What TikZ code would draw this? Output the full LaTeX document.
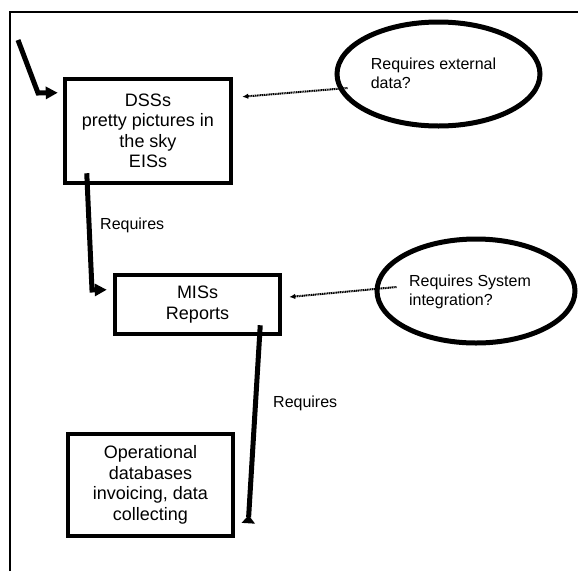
\documentclass[tikz,border=0pt]{standalone}
\usepackage{fontspec}
\setmainfont{Liberation Sans}
\usetikzlibrary{arrows.meta,calc,shapes.geometric}

\tikzset{
  sysbox/.style={draw, line width=4.5pt, rectangle, align=center,
    font=\fontsize{18}{20.5}\selectfont, inner sep=0pt},
  question/.style={draw, line width=5pt, ellipse, inner sep=0pt},
  qtext/.style={align=left, inner sep=0pt, font=\fontsize{16}{18.5}\selectfont},
  lbl/.style={font=\fontsize{16}{18}\selectfont, inner sep=0pt, anchor=west},
  flow/.style={line width=5pt, line join=miter,
    -{Triangle[length=12pt,width=12pt]}},
  feed/.style={line width=2pt, dash pattern=on 1.2pt off 0.6pt,
    -{Latex[length=6pt,width=5.5pt]}},
  frameline/.style={line width=2pt}
}

\begin{document}
\begin{tikzpicture}[x=1pt,y=-1pt]
  \useasboundingbox (0,0) rectangle (578,571);

  % open frame: top and left edges only
  \draw[frameline] (10,571) -- (10,12) -- (578,12);

  % system layers
  \node[sysbox, minimum width=166pt, minimum height=104pt] (dss) at (148,131)
    {DSSs\\pretty pictures in\\the sky\\EISs};
  \node[sysbox, minimum width=165pt, minimum height=59pt] (mis) at (197.5,304.5)
    {MISs\\Reports};
  \node[sysbox, minimum width=165pt, minimum height=102pt] (ops) at (150.5,485)
    {Operational\\databases\\invoicing, data\\collecting};

  % open questions
  \node[question, minimum width=203pt, minimum height=104pt] (ext) at (438.5,74) {};
  \node[qtext] (extq) at (433.5,73.5) {Requires external\\data?};
  \node[question, minimum width=198pt, minimum height=104pt] (sysint) at (476,291) {};
  \node[qtext] (sysq) at (470,292) {Requires System\\integration?};

  % entry arrow into the top layer
  \coordinate (entry) at (18,40);
  \draw[flow] (entry) -- (38,93) -- ($(dss.north west)+(-5,16)$);

  % dependency arrows
  \draw[flow] ($(dss.south west)+(24,-12)$) -- (92,290) -- ($(mis.north west)+(-6,17)$);
  \draw[line width=5pt, -{Triangle[reversed,length=8pt,width=13pt]}]
    ($(mis.south east)+(-22,-11)$) -- ($(ops.south east)+(13,-15)$);

  \node[lbl] (req1) at (100,225) {Requires};
  \node[lbl] (req2) at (273,403) {Requires};

  % dotted links from the questions
  \draw[feed] ($(ext.west)+(13,14)$) -- ($(dss.north east)+(9,20)$);
  \draw[feed] ($(sysint.west)+(22,-4)$) -- ($(mis.east)+(7,-7.5)$);
\end{tikzpicture}
\end{document}
